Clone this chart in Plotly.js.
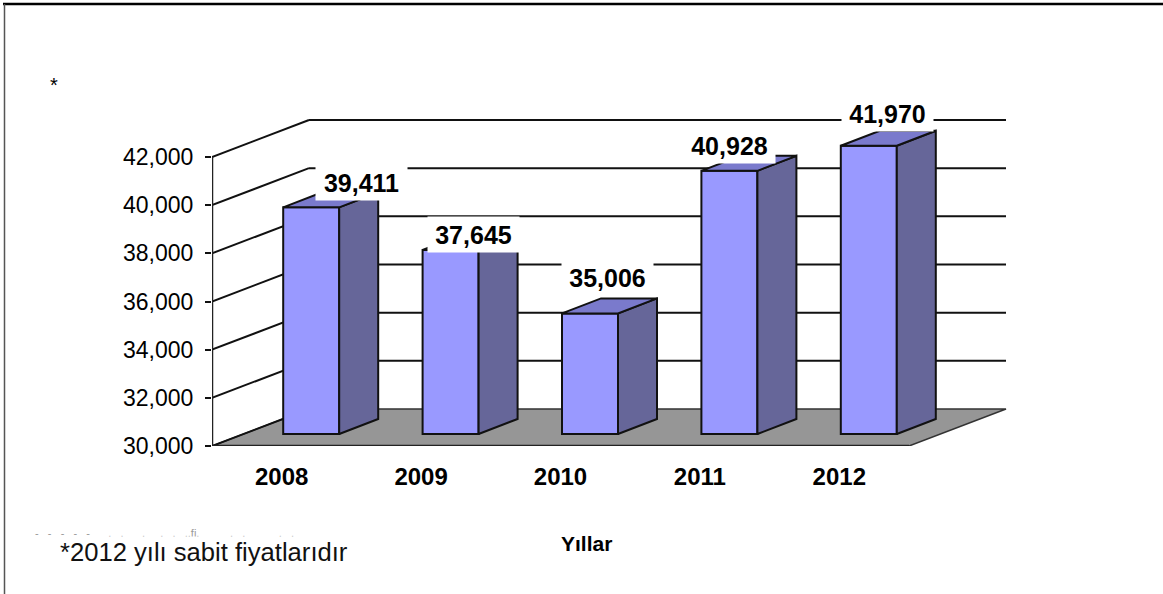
<!DOCTYPE html>
<html><head><meta charset="utf-8">
<script src="https://cdn.plot.ly/plotly-3.0.1.min.js"></script>
<style>html,body{margin:0;padding:0;background:#fff}#c{width:1163px;height:594px}</style>
</head><body><div id="c"></div>
<script>
// ---- data ----
const years = ['2008','2009','2010','2011','2012'];
const values = [39411,37645,35006,40928,41970];
const yTicks = [30000,32000,34000,36000,38000,40000,42000];
const axisTitle = 'Yıllar';
const footnote = '*2012 yılı sabit fiyatlarıdır';
const marker = '*';
// clipped remnant of an older caption, as it shows above the footnote
const remnant = '-   -   -   -   -      .   .      .     .   .   ..fi.          .   .           .   .'.replace(/ /g,'\u00A0');
// manual label displacement (px) from each bar's top-front centre
const labelDx = [50.5,23,17,0,19];
const labelDy = [6,-3,17,7,14];

// ---- layout constants (px) ----
const L=212,T=100,R=1020,B=446, unitPx=139.4, yPx=289/12000;
const wallDxPx=97, wallDyPx=37;
const wdx=wallDxPx/unitPx, wdy=wallDyPx/yPx;
const barW=56/unitPx, bx0=29.5/unitPx, by0=12/yPx, bdx=39/unitPx, bdy=15/yPx;
const xr=[-0.5,-0.5+(R-L)/unitPx], yr=[30000,30000+(B-T)/yPx];
const xEnd=4.5;
const ink='#111', C={front:'#9999FF',side:'#666699',top:'#7A7ACC',floor:'#969696'};
const lw=2;

const seg=(x0,y0,x1,y1,w)=>({type:'line',xref:'x',yref:'y',layer:'below',x0,y0,x1,y1,line:{color:ink,width:w||lw}});
const shapes=[];
// floor
shapes.push({type:'path',xref:'x',yref:'y',layer:'below',
  path:`M${xr[0]},${yr[0]} L${xEnd},${yr[0]} L${xEnd+wdx},${yr[0]+wdy} L${xr[0]+wdx},${yr[0]+wdy} Z`,
  fillcolor:C.floor,line:{color:'#333',width:1.5}});
// walls and gridlines
yTicks.forEach(v=>{
  shapes.push(seg(xr[0],v,xr[0]+wdx,v+wdy));
  if(v>yTicks[0]) shapes.push(seg(xr[0]+wdx,v+wdy,xEnd+wdx,v+wdy));
});
// picture frame
const px=p=>(p-L)/(R-L), py=p=>(B-p)/(B-T);
shapes.push({type:'line',xref:'paper',yref:'paper',x0:px(3),x1:px(1163),y0:py(4),y1:py(4),line:{color:'#000',width:2.5}});
shapes.push({type:'line',xref:'paper',yref:'paper',x0:px(4.5),x1:px(4.5),y0:py(4),y1:py(594),line:{color:'#555',width:1.5}});

const traces=[];
// front faces: real bars
traces.push({type:'bar',x:years.map((_,i)=>i+bx0),y:values.map(v=>v-30000),base:values.map(()=>30000+by0),
  width:barW,marker:{color:C.front,line:{color:ink,width:2}},hoverinfo:'skip',showlegend:false});
// side and top faces
values.forEach((v,i)=>{
  const xl=i+bx0-barW/2, xr2=i+bx0+barW/2, b=30000+by0, t=v+by0;
  traces.push({type:'scatter',mode:'lines',x:[xr2,xr2+bdx,xr2+bdx,xr2,xr2],y:[b,b+bdy,t+bdy,t,b],
    fill:'toself',fillcolor:C.side,line:{color:ink,width:lw},hoverinfo:'skip',showlegend:false});
  traces.push({type:'scatter',mode:'lines',x:[xl,xl+bdx,xr2+bdx,xr2,xl],y:[t,t+bdy,t+bdy,t,t],
    fill:'toself',fillcolor:C.top,line:{color:ink,width:lw},hoverinfo:'skip',showlegend:false});
});
// front axis lines, unclipped so their full width shows
traces.push({type:'scatter',mode:'lines',cliponaxis:false,x:[xr[0],xr[0],xEnd],y:[42000,yr[0],yr[0]],
  line:{color:'#222',width:2.5},hoverinfo:'skip',showlegend:false});

const base={family:'"Liberation Sans",Arial,sans-serif',color:'#000'};
const annotations=values.map((v,i)=>({
  x:i+bx0,y:v+by0,xref:'x',yref:'y',xanchor:'center',yanchor:'bottom',
  xshift:labelDx[i],yshift:labelDy[i],showarrow:false,
  text:v.toLocaleString('en-US'),bgcolor:'#fff',width:91,height:35,borderpad:0,
  font:Object.assign({},base,{size:25,weight:700})
}));
annotations.push({xref:'paper',yref:'paper',x:px(586.5),y:py(543),xanchor:'center',yanchor:'middle',showarrow:false,
  text:axisTitle,font:Object.assign({},base,{size:21,weight:700})});
annotations.push({xref:'paper',yref:'paper',x:px(33),y:py(533),xanchor:'left',yanchor:'middle',showarrow:false,
  text:remnant,font:{family:base.family,size:11,color:'#999'}});
annotations.push({xref:'paper',yref:'paper',x:px(58),y:py(552),xanchor:'left',yanchor:'middle',bgcolor:'#fff',showarrow:false,
  text:footnote,font:Object.assign({},base,{size:25.6,color:'#111'})});
annotations.push({xref:'paper',yref:'paper',x:px(54),y:py(85),xanchor:'center',yanchor:'middle',showarrow:false,
  text:marker,font:Object.assign({},base,{size:20})});

Plotly.newPlot('c',traces,{
  width:1163,height:594,showlegend:false,
  paper_bgcolor:'#fff',plot_bgcolor:'rgba(0,0,0,0)',
  margin:{l:L,t:T,r:1163-R,b:594-B,pad:0},
  xaxis:{range:xr,tickmode:'array',tickvals:years.map((_,i)=>i),ticktext:years,showgrid:false,zeroline:false,showline:false,
    ticks:'',tickangle:0,ticklabelstandoff:14,tickfont:Object.assign({},base,{size:24,weight:700})},
  yaxis:{range:yr,tickmode:'array',tickvals:yTicks,ticktext:yTicks.map(v=>v.toLocaleString('en-US')),showgrid:false,zeroline:false,showline:false,
    ticks:'outside',ticklen:6,tickwidth:2,tickcolor:ink,ticklabelstandoff:7,tickfont:Object.assign({},base,{size:23})},
  shapes,annotations,bargap:0
},{displayModeBar:false,staticPlot:true});
</script></body></html>
